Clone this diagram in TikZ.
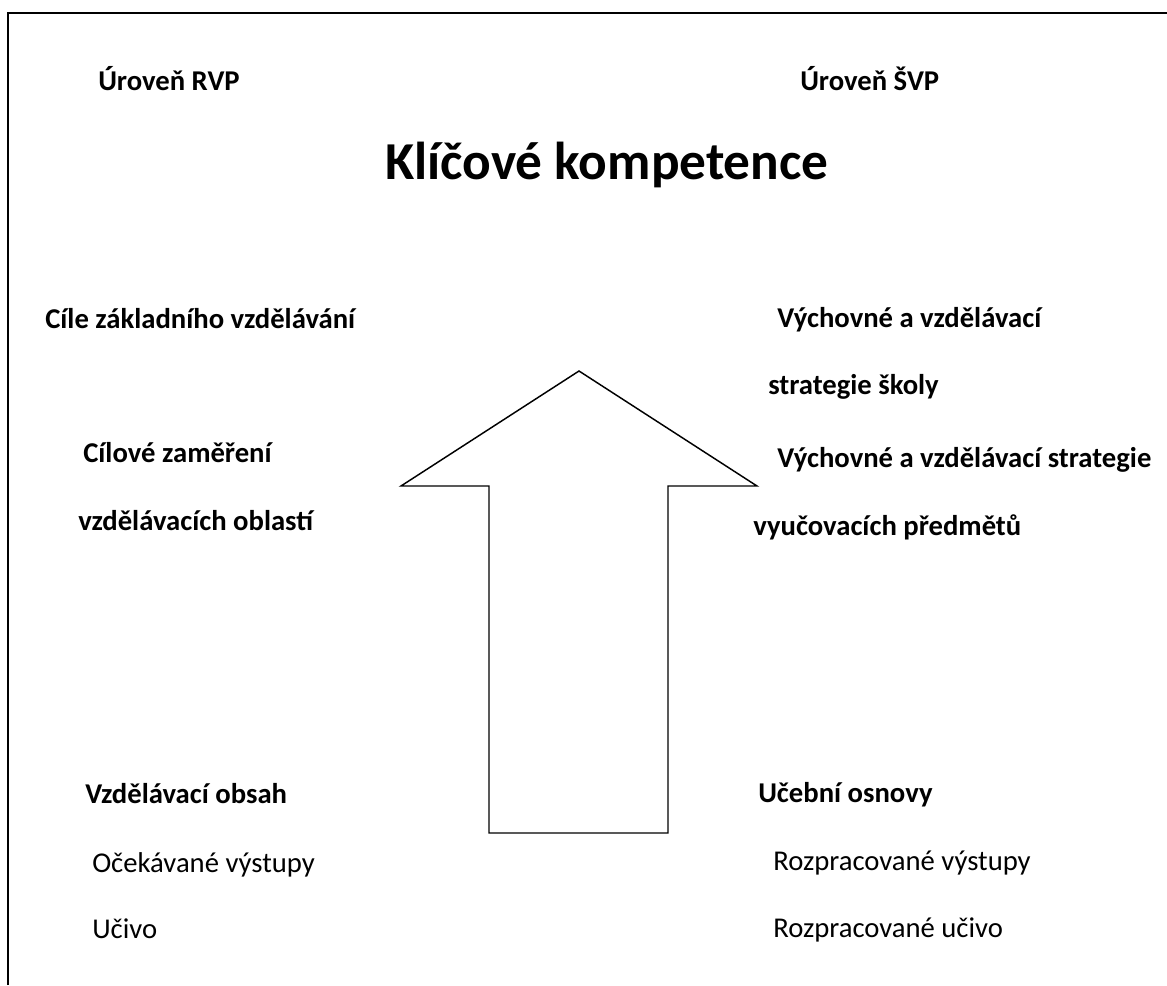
\documentclass[tikz,border=0pt]{standalone}
\usepackage{fontspec}
\setmainfont{Carlito}
\begin{document}
\begin{tikzpicture}[x=0.75pt,y=-0.75pt,
  lbl/.style={inner sep=0pt,anchor=base west,font=\fontsize{21.5}{26}\selectfont\bfseries},
  txt/.style={inner sep=0pt,anchor=base west,font=\fontsize{21.5}{26}\selectfont},
  ttl/.style={inner sep=0pt,anchor=base west,font=\fontsize{40}{46}\selectfont\bfseries},
  frame/.style={line width=1.5pt},
  arr/.style={line width=1.1pt,line join=miter}]
\useasboundingbox (0,0) rectangle (1167,985);
\draw[frame] (8,985) -- (8,13) -- (1167,13);
\node[lbl] (rvp) at (98,90) {Úroveň RVP};
\node[lbl] (svp) at (800,90) {Úroveň ŠVP};
\node[ttl] (kk) at (385,179) {Klíčové kompetence};
\node[lbl] (cile) at (45,328) {Cíle základního vzdělávání};
\node[lbl] (cz1) at (83,462) {Cílové zaměření};
\node[lbl] (cz2) at (78,530) {vzdělávacích oblastí};
\node[lbl] (vs1) at (777,327) {Výchovné a vzdělávací};
\node[lbl] (vs2) at (768,394) {strategie školy};
\node[lbl] (vp1) at (777,467) {Výchovné a vzdělávací strategie};
\node[lbl] (vp2) at (753,535) {vyučovacích předmětů};
\node[lbl] (vo) at (85,803) {Vzdělávací obsah};
\node[txt] (ov) at (92,872) {Očekávané výstupy};
\node[txt] (uc) at (92,938) {Učivo};
\node[lbl] (uo) at (758,802) {Učební osnovy};
\node[txt] (rv) at (773,870) {Rozpracované výstupy};
\node[txt] (ru) at (773,937) {Rozpracované učivo};
\coordinate (tip) at (579,371);
\coordinate (bl) at (401,486);
\coordinate (br) at (757,486);
\draw[arr] (tip) -- (br) -- (668,486) -- (668,833) -- (489,833) -- (489,486) -- (bl) -- cycle;
\end{tikzpicture}
\end{document}
